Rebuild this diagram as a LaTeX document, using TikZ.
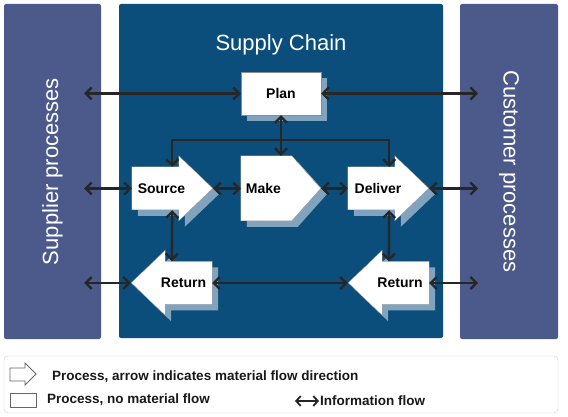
\documentclass[tikz,border=0pt]{standalone}
\usepackage{fontspec}
\setmainfont{Liberation Sans}
\usetikzlibrary{arrows.meta,shadows}

\definecolor{sidefill}{HTML}{4B5A8A}
\definecolor{chainfill}{HTML}{0B4E7B}
\definecolor{shadefill}{HTML}{82A3BE}
\definecolor{flowline}{HTML}{262626}

\tikzset{
  sidebox/.style={fill=sidefill, rounded corners=2pt, inner sep=0, text=white,
    font=\fontsize{22}{26}\selectfont},
  chainbox/.style={fill=chainfill, rounded corners=2pt, inner sep=0},
  procbody/.style={inner sep=0, minimum width=47pt, minimum height=43pt},
  procfill/.style={fill=white, draw=black!45, line width=0.3pt,
    drop shadow={shadow xshift=6pt, shadow yshift=-6pt, fill=shadefill, opacity=1}},
  proclabel/.style={inner sep=0, font=\fontsize{14}{16}\selectfont\bfseries},
  info/.style={draw=flowline, line width=2.3pt,
    {Straight Barb[length=6pt,width=12pt]}-{Straight Barb[length=6pt,width=12pt]}},
  legendflow/.style={draw=flowline, line width=1.8pt,
    {Straight Barb[length=4.5pt,width=10pt]}-{Straight Barb[length=4.5pt,width=10pt]}},
  legendtext/.style={anchor=west, inner sep=0, text=black!90,
    font=\fontsize{13.5}{16}\selectfont\bfseries},
}

% process pointing right: name, x, y, text, text shift
\newcommand\rightproc[5]{
  \node[procbody] (#1) at (#2,#3) {};
  \path[procfill] (#1.north west) -- ++(47,0) -- ++(0,-11) -- ++(34,32.5)
    -- ++(-34,32.5) -- ++(0,-11) -- ++(-47,0) -- cycle;
  \path (#1.east) ++(34,0) coordinate (#1-tip);
  \node[proclabel, xshift=#5] (#1-txt) at (#1) {#4};
}
% process pointing left
\newcommand\leftproc[5]{
  \node[procbody] (#1) at (#2,#3) {};
  \path[procfill] (#1.north east) -- ++(-47,0) -- ++(0,-11) -- ++(-34,32.5)
    -- ++(34,32.5) -- ++(0,-11) -- ++(47,0) -- cycle;
  \path (#1.west) ++(-34,0) coordinate (#1-tip);
  \node[proclabel, xshift=#5] (#1-txt) at (#1) {#4};
}

\begin{document}
\begin{tikzpicture}[x=1pt, y=-1pt]
    \useasboundingbox (0,0) rectangle (568,417);

    % outer boxes
    \node[sidebox, rotate=90, minimum width=335pt, minimum height=97pt] (sup) at (52.5,171.5) {Supplier processes};
    \node[sidebox, rotate=-90, minimum width=335pt, minimum height=98pt] (cus) at (509,171.5) {Customer processes};
    \node[chainbox, minimum width=324pt, minimum height=334pt] (chain) at (281,171) {};
    \node[text=white, font=\fontsize{22}{26}\selectfont] (title) at (281,45) {Supply Chain};

    % plan
    \node[procfill, inner sep=0, minimum width=80pt, minimum height=43pt,
      font=\fontsize{14}{16}\selectfont\bfseries] (plan) at (281,93.5) {Plan};

    % source, make, deliver
    \rightproc{src}{155.5}{188.5}{Source}{6pt}
    \node[procbody, minimum width=51pt, minimum height=65pt] (make) at (266.5,188.5) {};
    \path[procfill] (make.north west) -- ++(51,0) -- ++(29,32.5) -- ++(-29,32.5) -- ++(-51,0) -- cycle;
    \path (make.east) ++(29,0) coordinate (make-tip);
    \node[proclabel, xshift=-3pt] (make-txt) at (make) {Make};
    \rightproc{dlv}{371.5}{188.5}{Deliver}{6.5pt}

    % returns
    \leftproc{retL}{188.5}{283}{Return}{-5pt}
    \leftproc{retR}{405.5}{283}{Return}{-5.5pt}

    % free ends in the side boxes
    \coordinate (supx) at (84,0);
    \coordinate (cusx) at (478,0);
    \coordinate (bus) at (281,140);

    % plan to outside
    \draw[info] (supx |- plan.west) -- (plan.west);
    \draw[info] (plan.east) -- (cusx |- plan.east);

    % plan down to make, source and deliver
    \draw[info] (plan.south) -- (plan.south |- make.north);
    \draw[info] ([xshift=-7pt]src.north east) -- ([xshift=-7pt]src.north east |- bus)
      -- ([xshift=-6pt]dlv.north east |- bus) -- ([xshift=-6pt]dlv.north east);

    % middle row
    \draw[info] (supx |- src.west) -- (src.west);
    \draw[info] (src-tip) -- (make.west);
    \draw[info] (make-tip) -- (dlv.west);
    \draw[info] (dlv-tip) -- (cusx |- dlv-tip);

    % down to returns
    \draw[info] ([xshift=-7pt]src.south east) -- ([xshift=7pt]retL.north west);
    \draw[info] ([xshift=-6pt]dlv.south east) -- ([xshift=7pt]retR.north west);

    % bottom row
    \draw[info] (supx |- retL-tip) -- (retL-tip);
    \draw[info] (retL.east) -- (retR-tip);
    \draw[info] (retR.east) -- (cusx |- retR.east);

    % legend
    \node[draw=black!20, fill=white, rounded corners=4pt, minimum width=554pt, minimum height=57pt, inner sep=0] (legend) at (281,384.5) {};
    \draw[black!60, line width=0.8pt] (10,368) -- (25,368) -- (25,363) -- (36,374) -- (25,385) -- (25,381) -- (10,381) -- cycle;
    \draw[black!60, line width=0.8pt] (10,393) rectangle (36,407);
    \node[legendtext] (lgA) at (52,377) {Process, arrow indicates material flow direction};
    \node[legendtext] (lgB) at (47,400) {Process, no material flow};
    \node[legendtext] (lgC) at (320,401) {Information flow};
    \draw[legendflow] ([xshift=-1pt]lgC.west) -- ([xshift=-25pt]lgC.west);

\end{tikzpicture}
\end{document}
